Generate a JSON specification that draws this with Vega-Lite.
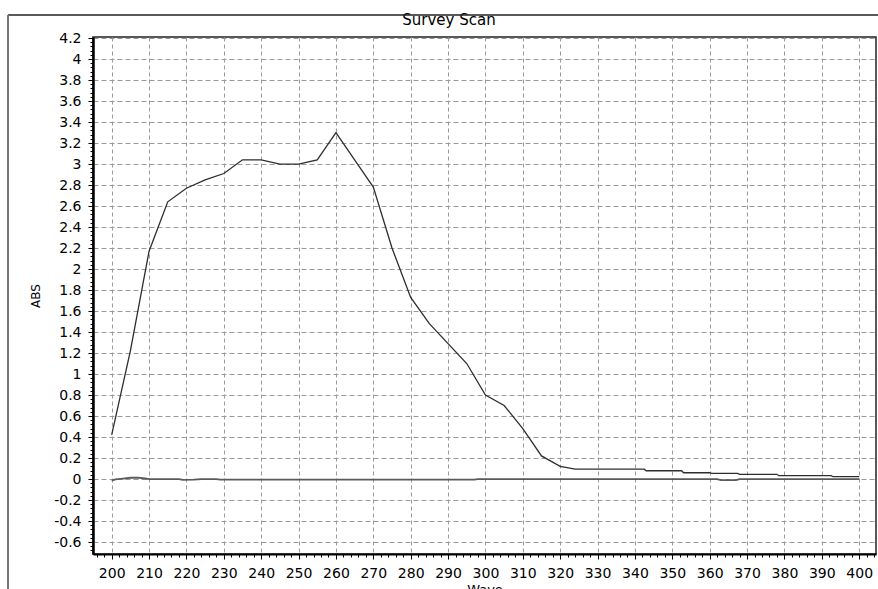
{
  "$schema": "https://vega.github.io/schema/vega-lite/v6.json",
  "autosize": "none",
  "width": 783,
  "height": 517,
  "padding": {"left": 93, "top": 37, "right": 2, "bottom": 35},
  "background": "#ffffff",
  "config": {
    "view": {"stroke": "#222222", "strokeWidth": 1.5},
    "font": "DejaVu Sans"
  },
  "datasets": {
    "scan": [
      {"wave": 200, "abs": 0.42},
      {"wave": 205, "abs": 1.22},
      {"wave": 210, "abs": 2.17},
      {"wave": 215, "abs": 2.64},
      {"wave": 220, "abs": 2.77},
      {"wave": 225, "abs": 2.85},
      {"wave": 230, "abs": 2.91},
      {"wave": 235, "abs": 3.04},
      {"wave": 240, "abs": 3.04},
      {"wave": 245, "abs": 3.0},
      {"wave": 250, "abs": 3.0},
      {"wave": 255, "abs": 3.04},
      {"wave": 260, "abs": 3.3},
      {"wave": 265, "abs": 3.04},
      {"wave": 270, "abs": 2.78},
      {"wave": 275, "abs": 2.2},
      {"wave": 280, "abs": 1.73},
      {"wave": 285, "abs": 1.48},
      {"wave": 290, "abs": 1.29},
      {"wave": 295, "abs": 1.1},
      {"wave": 300, "abs": 0.8},
      {"wave": 305, "abs": 0.7},
      {"wave": 310, "abs": 0.48},
      {"wave": 315, "abs": 0.22},
      {"wave": 320, "abs": 0.12},
      {"wave": 324, "abs": 0.095},
      {"wave": 330, "abs": 0.094},
      {"wave": 340, "abs": 0.094},
      {"wave": 342.5, "abs": 0.094},
      {"wave": 343, "abs": 0.079},
      {"wave": 352.5, "abs": 0.079},
      {"wave": 353, "abs": 0.06},
      {"wave": 360, "abs": 0.06},
      {"wave": 360.5, "abs": 0.054},
      {"wave": 367.5, "abs": 0.054},
      {"wave": 368, "abs": 0.045},
      {"wave": 378, "abs": 0.045},
      {"wave": 378.5, "abs": 0.032},
      {"wave": 392.5, "abs": 0.032},
      {"wave": 393, "abs": 0.022},
      {"wave": 400, "abs": 0.022}
    ],
    "baseline": [
      {"wave": 200, "abs": -0.016},
      {"wave": 201, "abs": -0.004},
      {"wave": 203, "abs": 0.004},
      {"wave": 205, "abs": 0.012},
      {"wave": 207, "abs": 0.014},
      {"wave": 209, "abs": 0.005},
      {"wave": 210, "abs": 0.0},
      {"wave": 218, "abs": 0.0},
      {"wave": 219, "abs": -0.008},
      {"wave": 222, "abs": -0.006},
      {"wave": 224, "abs": 0.0},
      {"wave": 228, "abs": 0.0},
      {"wave": 229, "abs": -0.006},
      {"wave": 297, "abs": -0.006},
      {"wave": 298, "abs": 0.0},
      {"wave": 362, "abs": 0.0},
      {"wave": 363, "abs": -0.01},
      {"wave": 367, "abs": -0.01},
      {"wave": 368, "abs": 0.0},
      {"wave": 400, "abs": 0.0}
    ],
    "frame": [{"caption": "Survey Scan"}]
  },
  "layer": [
    {
      "data": {"name": "scan"},
      "mark": {"type": "line", "color": "#2e2e2e", "strokeWidth": 1.3, "interpolate": "linear"},
      "encoding": {
        "x": {
          "field": "wave",
          "type": "quantitative",
          "scale": {"domain": [195, 404.5], "nice": false, "zero": false},
          "axis": {
            "orient": "bottom",
            "tickCount": 300,
            "values": [196,198,200,202,204,206,208,210,212,214,216,218,220,222,224,226,228,230,232,234,236,238,240,242,244,246,248,250,252,254,256,258,260,262,264,266,268,270,272,274,276,278,280,282,284,286,288,290,292,294,296,298,300,302,304,306,308,310,312,314,316,318,320,322,324,326,328,330,332,334,336,338,340,342,344,346,348,350,352,354,356,358,360,362,364,366,368,370,372,374,376,378,380,382,384,386,388,390,392,394,396,398,400,402,404],
            "format": "d",
            "labelExpr": "datum.value % 10 === 0 ? datum.label : ''",
            "labelFont": "DejaVu Sans",
            "labelFontSize": 14,
            "labelColor": "#000000",
            "labelPadding": 7,
            "labelOverlap": false,
            "labelFlush": false,
            "labelBound": false,
            "domainColor": "#000000",
            "domainWidth": 2,
            "tickColor": "#000000",
            "tickWidth": 1,
            "tickSize": {"condition": {"test": "datum.value % 10 === 0", "value": 5}, "value": 3},
            "grid": true,
            "gridColor": "#9a9a9a",
            "gridDash": [4, 3],
            "gridWidth": 1,
            "gridOpacity": {"condition": {"test": "datum.value % 10 === 0", "value": 1}, "value": 0},
            "title": "Wave",
            "titleFont": "DejaVu Sans",
            "titleFontSize": 13,
            "titleFontWeight": "normal",
            "titleColor": "#000000",
            "titlePadding": 3
          }
        },
        "y": {
          "field": "abs",
          "type": "quantitative",
          "scale": {"domain": [-0.714, 4.21], "nice": false, "zero": false},
          "axis": {
            "orient": "left",
            "tickCount": 300,
            "values": [-0.68,-0.64,-0.6,-0.56,-0.52,-0.48,-0.44,-0.4,-0.36,-0.32,-0.28,-0.24,-0.2,-0.16,-0.12,-0.08,-0.04,0,0.04,0.08,0.12,0.16,0.2,0.24,0.28,0.32,0.36,0.4,0.44,0.48,0.52,0.56,0.6,0.64,0.68,0.72,0.76,0.8,0.84,0.88,0.92,0.96,1,1.04,1.08,1.12,1.16,1.2,1.24,1.28,1.32,1.36,1.4,1.44,1.48,1.52,1.56,1.6,1.64,1.68,1.72,1.76,1.8,1.84,1.88,1.92,1.96,2,2.04,2.08,2.12,2.16,2.2,2.24,2.28,2.32,2.36,2.4,2.44,2.48,2.52,2.56,2.6,2.64,2.68,2.72,2.76,2.8,2.84,2.88,2.92,2.96,3,3.04,3.08,3.12,3.16,3.2,3.24,3.28,3.32,3.36,3.4,3.44,3.48,3.52,3.56,3.6,3.64,3.68,3.72,3.76,3.8,3.84,3.88,3.92,3.96,4,4.04,4.08,4.12,4.16,4.2],
            "labelExpr": "abs(round(datum.value * 100)) % 20 === 0 ? (datum.value < 0 ? '-' + format(-datum.value, '~g') : format(datum.value, '~g')) : ''",
            "labelFont": "DejaVu Sans",
            "labelFontSize": 14,
            "labelColor": "#000000",
            "labelPadding": 7,
            "labelOverlap": false,
            "labelFlush": false,
            "labelBound": false,
            "domainColor": "#000000",
            "domainWidth": 2.5,
            "tickColor": "#000000",
            "tickWidth": 1,
            "tickSize": {"condition": {"test": "abs(round(datum.value * 100)) % 20 === 0", "value": 5}, "value": 3},
            "grid": true,
            "gridColor": "#9a9a9a",
            "gridDash": [5, 3],
            "gridWidth": 1,
            "gridOpacity": {"condition": {"test": "abs(round(datum.value * 100)) % 20 === 0", "value": 1}, "value": 0},
            "title": "ABS",
            "titleFont": "DejaVu Sans",
            "titleFontSize": 12,
            "titleFontWeight": "normal",
            "titleColor": "#000000",
            "titlePadding": 11
          }
        }
      }
    },
    {
      "data": {"name": "baseline"},
      "mark": {"type": "line", "color": "#5a5a5a", "strokeWidth": 1.8, "interpolate": "linear"},
      "encoding": {
        "x": {"field": "wave", "type": "quantitative"},
        "y": {"field": "abs", "type": "quantitative"}
      }
    },
    {
      "description": "chart caption above the plot",
      "data": {"name": "frame"},
      "mark": {"type": "text", "font": "DejaVu Sans", "fontSize": 15, "color": "#000000", "align": "center", "baseline": "alphabetic"},
      "encoding": {
        "text": {"field": "caption"},
        "x": {"datum": 290.25, "type": "quantitative"},
        "y": {"datum": 4.328, "type": "quantitative"}
      }
    },
    {
      "description": "window frame: top edge",
      "data": {"name": "frame"},
      "mark": {"type": "rule", "color": "#222222", "strokeWidth": 1.5},
      "encoding": {
        "x": {"datum": 172.26, "type": "quantitative"},
        "x2": {"datum": 405.1},
        "y": {"datum": 4.419, "type": "quantitative"}
      }
    },
    {
      "description": "window frame: left edge",
      "data": {"name": "frame"},
      "mark": {"type": "rule", "color": "#777777", "strokeWidth": 2},
      "encoding": {
        "x": {"datum": 172.26, "type": "quantitative"},
        "y": {"datum": 4.419, "type": "quantitative"},
        "y2": {"datum": -1.06}
      }
    }
  ]
}
